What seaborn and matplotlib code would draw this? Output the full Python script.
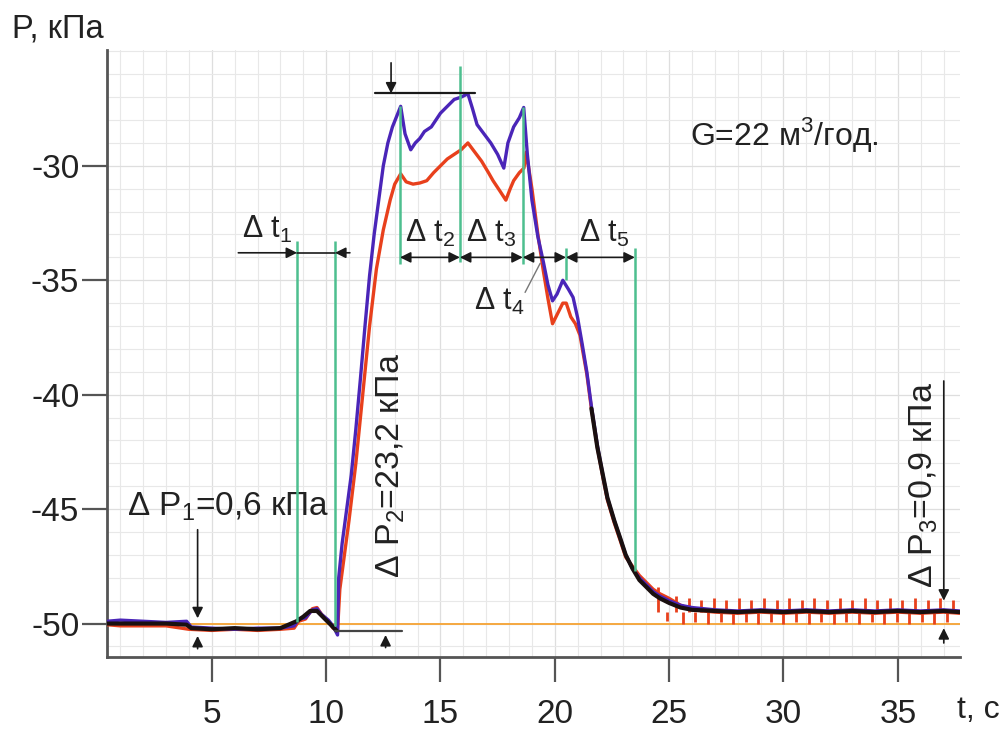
import numpy as np
import matplotlib
matplotlib.use("Agg")
import matplotlib.pyplot as plt
import seaborn as sns

# --- data ---
blue_t = [0.42, 1.0, 2.0, 3.0, 3.9, 4.1, 5.0, 6.0, 7.0, 8.0, 8.6, 8.8, 9.1, 9.4, 9.6, 9.8,
          10.1, 10.3, 10.5, 10.55, 10.7, 10.9, 11.1, 11.3, 11.5, 11.7, 11.9, 12.1, 12.3,
          12.5, 12.7, 12.9, 13.1, 13.26, 13.45, 13.7, 13.9, 14.1, 14.3, 14.6, 14.8, 15.0,
          15.3, 15.6, 15.9, 16.2, 16.4, 16.6, 16.9, 17.2, 17.5, 17.77, 17.95, 18.2, 18.45,
          18.64, 18.8, 19.0, 19.26, 19.5, 19.7, 19.9, 20.1, 20.35, 20.6, 20.8, 21.0, 21.2,
          21.4, 21.6, 21.86, 22.1, 22.3, 22.6, 22.87, 23.1, 23.4, 23.7, 24.0, 24.3, 24.6,
          25.0, 25.5, 26.0, 27.0, 28.0, 29.0, 30.0, 31.0, 32.0, 33.0, 34.0, 35.0, 36.0,
          37.0, 37.7]
blue_p = [-49.9, -49.85, -49.9, -49.95, -49.9, -50.15, -50.2, -50.25, -50.2, -50.2, -50.1,
          -49.8, -49.75, -49.4, -49.35, -49.6, -49.85, -50.1, -50.5, -48.0, -46.5, -45.0,
          -43.5, -41.5, -39.3, -37.0, -34.8, -33.0, -31.5, -30.0, -29.0, -28.3, -27.8,
          -27.4, -28.6, -29.3, -29.0, -28.8, -28.5, -28.3, -28.0, -27.7, -27.4, -27.1,
          -27.0, -26.85, -27.5, -28.2, -28.6, -29.0, -29.5, -30.1, -29.0, -28.3, -27.9,
          -27.45, -29.5, -31.5, -33.1, -34.2, -35.2, -35.9, -35.6, -35.0, -35.4, -35.75,
          -36.65, -37.8, -39.0, -40.5, -42.2, -43.5, -44.5, -45.5, -46.3, -47.0, -47.6,
          -48.0, -48.3, -48.6, -48.8, -49.0, -49.2, -49.3, -49.4, -49.45, -49.4, -49.45,
          -49.4, -49.45, -49.4, -49.45, -49.4, -49.45, -49.4, -49.45]

red_t = [0.42, 1.0, 2.0, 3.0, 4.0, 5.0, 6.0, 7.0, 8.0, 8.6, 8.8, 9.1, 9.4, 9.6, 9.8, 10.1,
         10.3, 10.5, 10.6, 10.8, 11.0, 11.3, 11.6, 11.9, 12.2, 12.5, 12.8, 13.0, 13.26,
         13.5, 13.8, 14.1, 14.4, 14.7, 15.0, 15.3, 15.6, 15.9, 16.2, 16.5, 16.8, 17.1,
         17.3, 17.6, 17.86, 18.05, 18.2, 18.45, 18.65, 18.75, 19.0, 19.26, 19.5, 19.7,
         19.9, 20.1, 20.35, 20.5, 20.7, 20.9, 21.1, 21.4, 21.6, 21.86, 22.1, 22.3, 22.6,
         22.87, 23.1, 23.4, 23.7, 24.0, 24.3, 24.6, 25.0, 25.5, 26.0, 27.0, 28.0, 29.0,
         30.0, 31.0, 32.0, 33.0, 34.0, 35.0, 36.0, 37.0, 37.7]
red_p = [-50.05, -50.1, -50.1, -50.1, -50.25, -50.3, -50.25, -50.3, -50.25, -50.2, -49.9,
         -49.8, -49.35, -49.3, -49.6, -49.9, -50.2, -50.3, -48.5, -47.0, -45.5, -43.0,
         -40.0, -37.0, -34.5, -32.8, -31.5, -30.8, -30.35, -30.7, -30.8, -30.75, -30.65,
         -30.3, -30.0, -29.7, -29.5, -29.3, -29.0, -29.4, -29.8, -30.3, -30.65, -31.1,
         -31.5, -31.0, -30.65, -30.3, -30.1, -29.4, -31.0, -33.0, -34.6, -35.8, -36.9,
         -36.5, -36.0, -36.0, -36.6, -36.9, -37.4, -39.1, -40.6, -42.3, -43.6, -44.6,
         -45.6, -46.4, -47.1, -47.5, -47.9, -48.2, -48.5, -48.7, -48.9, -49.2, -49.4,
         -49.5, -49.55, -49.5, -49.55, -49.5, -49.55, -49.5, -49.55, -49.5, -49.55,
         -49.5, -49.55]
# short vertical spikes on the red trace in the steady tail
red_spike_t = [24.5, 24.9, 25.3, 25.6, 25.85, 26.15, 26.4, 26.7, 26.95, 27.25, 27.5, 27.8,
               28.05, 28.35, 28.6, 28.9, 29.15, 29.45, 29.7, 30.0, 30.25, 30.55, 30.8,
               31.1, 31.35, 31.65, 31.9, 32.2, 32.45, 32.75, 33.0, 33.3, 33.55, 33.85,
               34.1, 34.4, 34.65, 34.95, 35.2, 35.5, 35.75, 36.05, 36.3, 36.6, 36.85,
               37.15, 37.4]
red_spike_p = [-48.4, -49.9, -48.8, -50.0, -48.9, -49.95, -48.95, -50.0, -48.9, -49.95,
               -48.95, -50.0, -48.9, -49.95, -48.95, -50.0, -48.9, -49.95, -48.95, -50.0,
               -48.9, -49.95, -48.95, -50.0, -48.9, -49.95, -48.95, -50.0, -48.9, -49.95,
               -48.95, -50.0, -48.9, -49.95, -48.95, -50.0, -48.9, -49.95, -48.95, -50.0,
               -48.9, -49.95, -48.95, -50.0, -48.9, -49.95, -48.95]

black_t1 = [0.42, 3.0, 3.9, 4.1, 5.0, 6.0, 7.0, 8.0, 8.7, 9.0, 9.3, 9.6, 9.9, 10.2, 10.45]
black_p1 = [-50.0, -50.0, -50.05, -50.2, -50.25, -50.2, -50.25, -50.2, -49.9, -49.7,
            -49.45, -49.45, -49.75, -50.05, -50.3]
black_t2 = [21.6, 21.86, 22.1, 22.3, 22.6, 22.87, 23.1, 23.4, 23.7, 24.0, 24.3, 24.6,
            25.0, 25.5, 26.0, 27.0, 28.0, 29.0, 30.0, 31.0, 32.0, 33.0, 34.0, 35.0, 36.0,
            37.0, 37.7]
black_p2 = [-40.6, -42.3, -43.5, -44.5, -45.5, -46.3, -47.0, -47.6, -48.1, -48.4, -48.7,
            -48.9, -49.1, -49.3, -49.4, -49.45, -49.5, -49.45, -49.5, -49.45, -49.5,
            -49.45, -49.5, -49.45, -49.5, -49.45, -49.5]

baseline_p = -50.0
# green markers: (t, top, bottom)
markers_t = [8.73, 10.39, 13.23, 15.85, 18.6, 20.49, 23.5]
markers_top = [-33.3, -33.3, -27.4, -25.65, -27.45, -33.6, -33.6]
markers_bot = [-49.95, -50.1, -34.3, -34.2, -34.3, -35.0, -47.7]

sns.set_style("white")
plt.rcParams["font.family"] = ["Liberation Sans", "DejaVu Sans"]
plt.rcParams["mathtext.fontset"] = "custom"
plt.rcParams["mathtext.rm"] = "Liberation Sans"

fig = plt.figure(figsize=(10.08, 7.29), dpi=100)
ax = fig.add_axes([0.1062, 0.0988, 0.8462, 0.8326])

# grid
ax.set_xticks(np.arange(1, 38, 1), minor=True)
ax.set_yticks(np.arange(-51, -24, 1), minor=True)
ax.grid(True, which="minor", color="#e8e8e8", lw=0.8)
ax.grid(True, which="major", color="#dedede", lw=0.9)
ax.set_axisbelow(True)

ax.axhline(baseline_p, color="#f5a840", lw=1.4, zorder=2)

lw = 2.4
red = "#e8401c"
ax.vlines(red_spike_t, -49.5, red_spike_p, color=red, lw=2.0, zorder=3)
sns.lineplot(x=red_t, y=red_p, ax=ax, color=red, lw=lw, estimator=None, sort=False,
             zorder=3)
sns.lineplot(x=blue_t, y=blue_p, ax=ax, color="#4a25b8", lw=lw, estimator=None, sort=False,
             zorder=4)
sns.lineplot(x=black_t1, y=black_p1, ax=ax, color="#1a1010", lw=3.0, estimator=None,
             sort=False, zorder=5)
sns.lineplot(x=black_t2, y=black_p2, ax=ax, color="#1a1010", lw=3.0, estimator=None,
             sort=False, zorder=5)

ax.vlines(markers_t, markers_bot, markers_top, color="#4dbf8f", lw=1.8, zorder=6)

# arrows & annotation lines
blk = "#1a1a1a"
aprops = dict(arrowstyle="-|>", color=blk, lw=1.2, mutation_scale=16, shrinkA=0, shrinkB=0)
def arrow(x0, y0, x1, y1):
    ax.annotate("", xy=(x1, y1), xytext=(x0, y0), arrowprops=aprops, zorder=7)

# delta t1
arrow(6.16, -33.8, 8.73, -33.8)
ax.plot([8.73, 10.39], [-33.8, -33.8], color=blk, lw=1.2, zorder=7)
arrow(11.04, -33.8, 10.39, -33.8)
# delta t2..t5
for a, b in [(13.23, 15.85), (15.85, 18.6), (18.6, 20.49), (20.49, 23.5)]:
    ax.annotate("", xy=(b, -34.0), xytext=(a, -34.0),
                arrowprops=dict(arrowstyle="<|-|>", color=blk, lw=1.2, mutation_scale=16,
                                shrinkA=0, shrinkB=0), zorder=7)
ax.plot([18.7, 19.36], [-35.53, -34.26], color="#777777", lw=1.0, zorder=7)

# top peak marker
ax.plot([12.13, 16.51], [-26.84, -26.84], color=blk, lw=1.6, zorder=7)
arrow(12.84, -25.5, 12.84, -26.84)

# delta P1
arrow(4.38, -45.9, 4.38, -49.77)
arrow(4.38, -51.1, 4.38, -50.54)
# delta P2
ax.plot([10.39, 13.32], [-50.32, -50.32], color="#444444", lw=1.6, zorder=7)
arrow(12.6, -51.05, 12.6, -50.5)
# delta P3
arrow(37.01, -39.4, 37.01, -49.0)
arrow(37.01, -50.85, 37.01, -50.2)

tc = "#222222"
fs = 22
ax.text(6.3, -33.17, r"Δ t$_\mathregular{1}$", fontsize=fs, color=tc)
ax.text(13.45, -33.32, r"Δ t$_\mathregular{2}$", fontsize=fs, color=tc)
ax.text(16.1, -33.32, r"Δ t$_\mathregular{3}$", fontsize=fs, color=tc)
ax.text(21.05, -33.32, r"Δ t$_\mathregular{5}$", fontsize=fs, color=tc)
ax.text(16.45, -36.3, r"Δ t$_\mathregular{4}$", fontsize=fs, color=tc)
ax.text(25.9, -29.1, r"G=22 м$^\mathregular{3}$/год.", fontsize=23, color=tc)
ax.text(1.3, -45.27, r"Δ P$_\mathregular{1}$=0,6 кПа", fontsize=24, color=tc)
ax.text(12.8, -43.1, r"Δ P$_\mathregular{2}$=23,2 кПа", fontsize=24.5, color=tc,
        rotation=90, ha="center", va="center")
ax.text(36.13, -43.95, r"Δ P$_\mathregular{3}$=0,9 кПа", fontsize=24.5, color=tc,
        rotation=90, ha="center", va="center")

# axes styling
ax.set_xlim(0.42, 37.72)
ax.set_ylim(-51.46, -24.94)
ax.set_xticks([5, 10, 15, 20, 25, 30, 35])
ax.set_yticks([-50, -45, -40, -35, -30])
ax.set_xticklabels(["5", "10", "15", "20", "25", "30", "35"])
ax.set_yticklabels(["-50", "-45", "-40", "-35", "-30"])
ax.tick_params(axis="both", which="major", direction="out", length=18, width=1.6,
               color="#555555", labelsize=24, labelcolor=tc, bottom=True, left=True)
ax.tick_params(axis="x", pad=12)
ax.tick_params(axis="y", pad=2)
ax.tick_params(which="minor", length=0)
for s in ["top", "right"]:
    ax.spines[s].set_visible(False)
for s in ["left", "bottom"]:
    ax.spines[s].set_color("#555555")
    ax.spines[s].set_linewidth(2.0)

fig.text(12 / 1008, 1 - 38 / 729, "P, кПа", fontsize=23.5, color=tc)
fig.text(957 / 1008, 1 - 718 / 729, "t, с", fontsize=23, color=tc)

fig.savefig("out.png", dpi=100)
